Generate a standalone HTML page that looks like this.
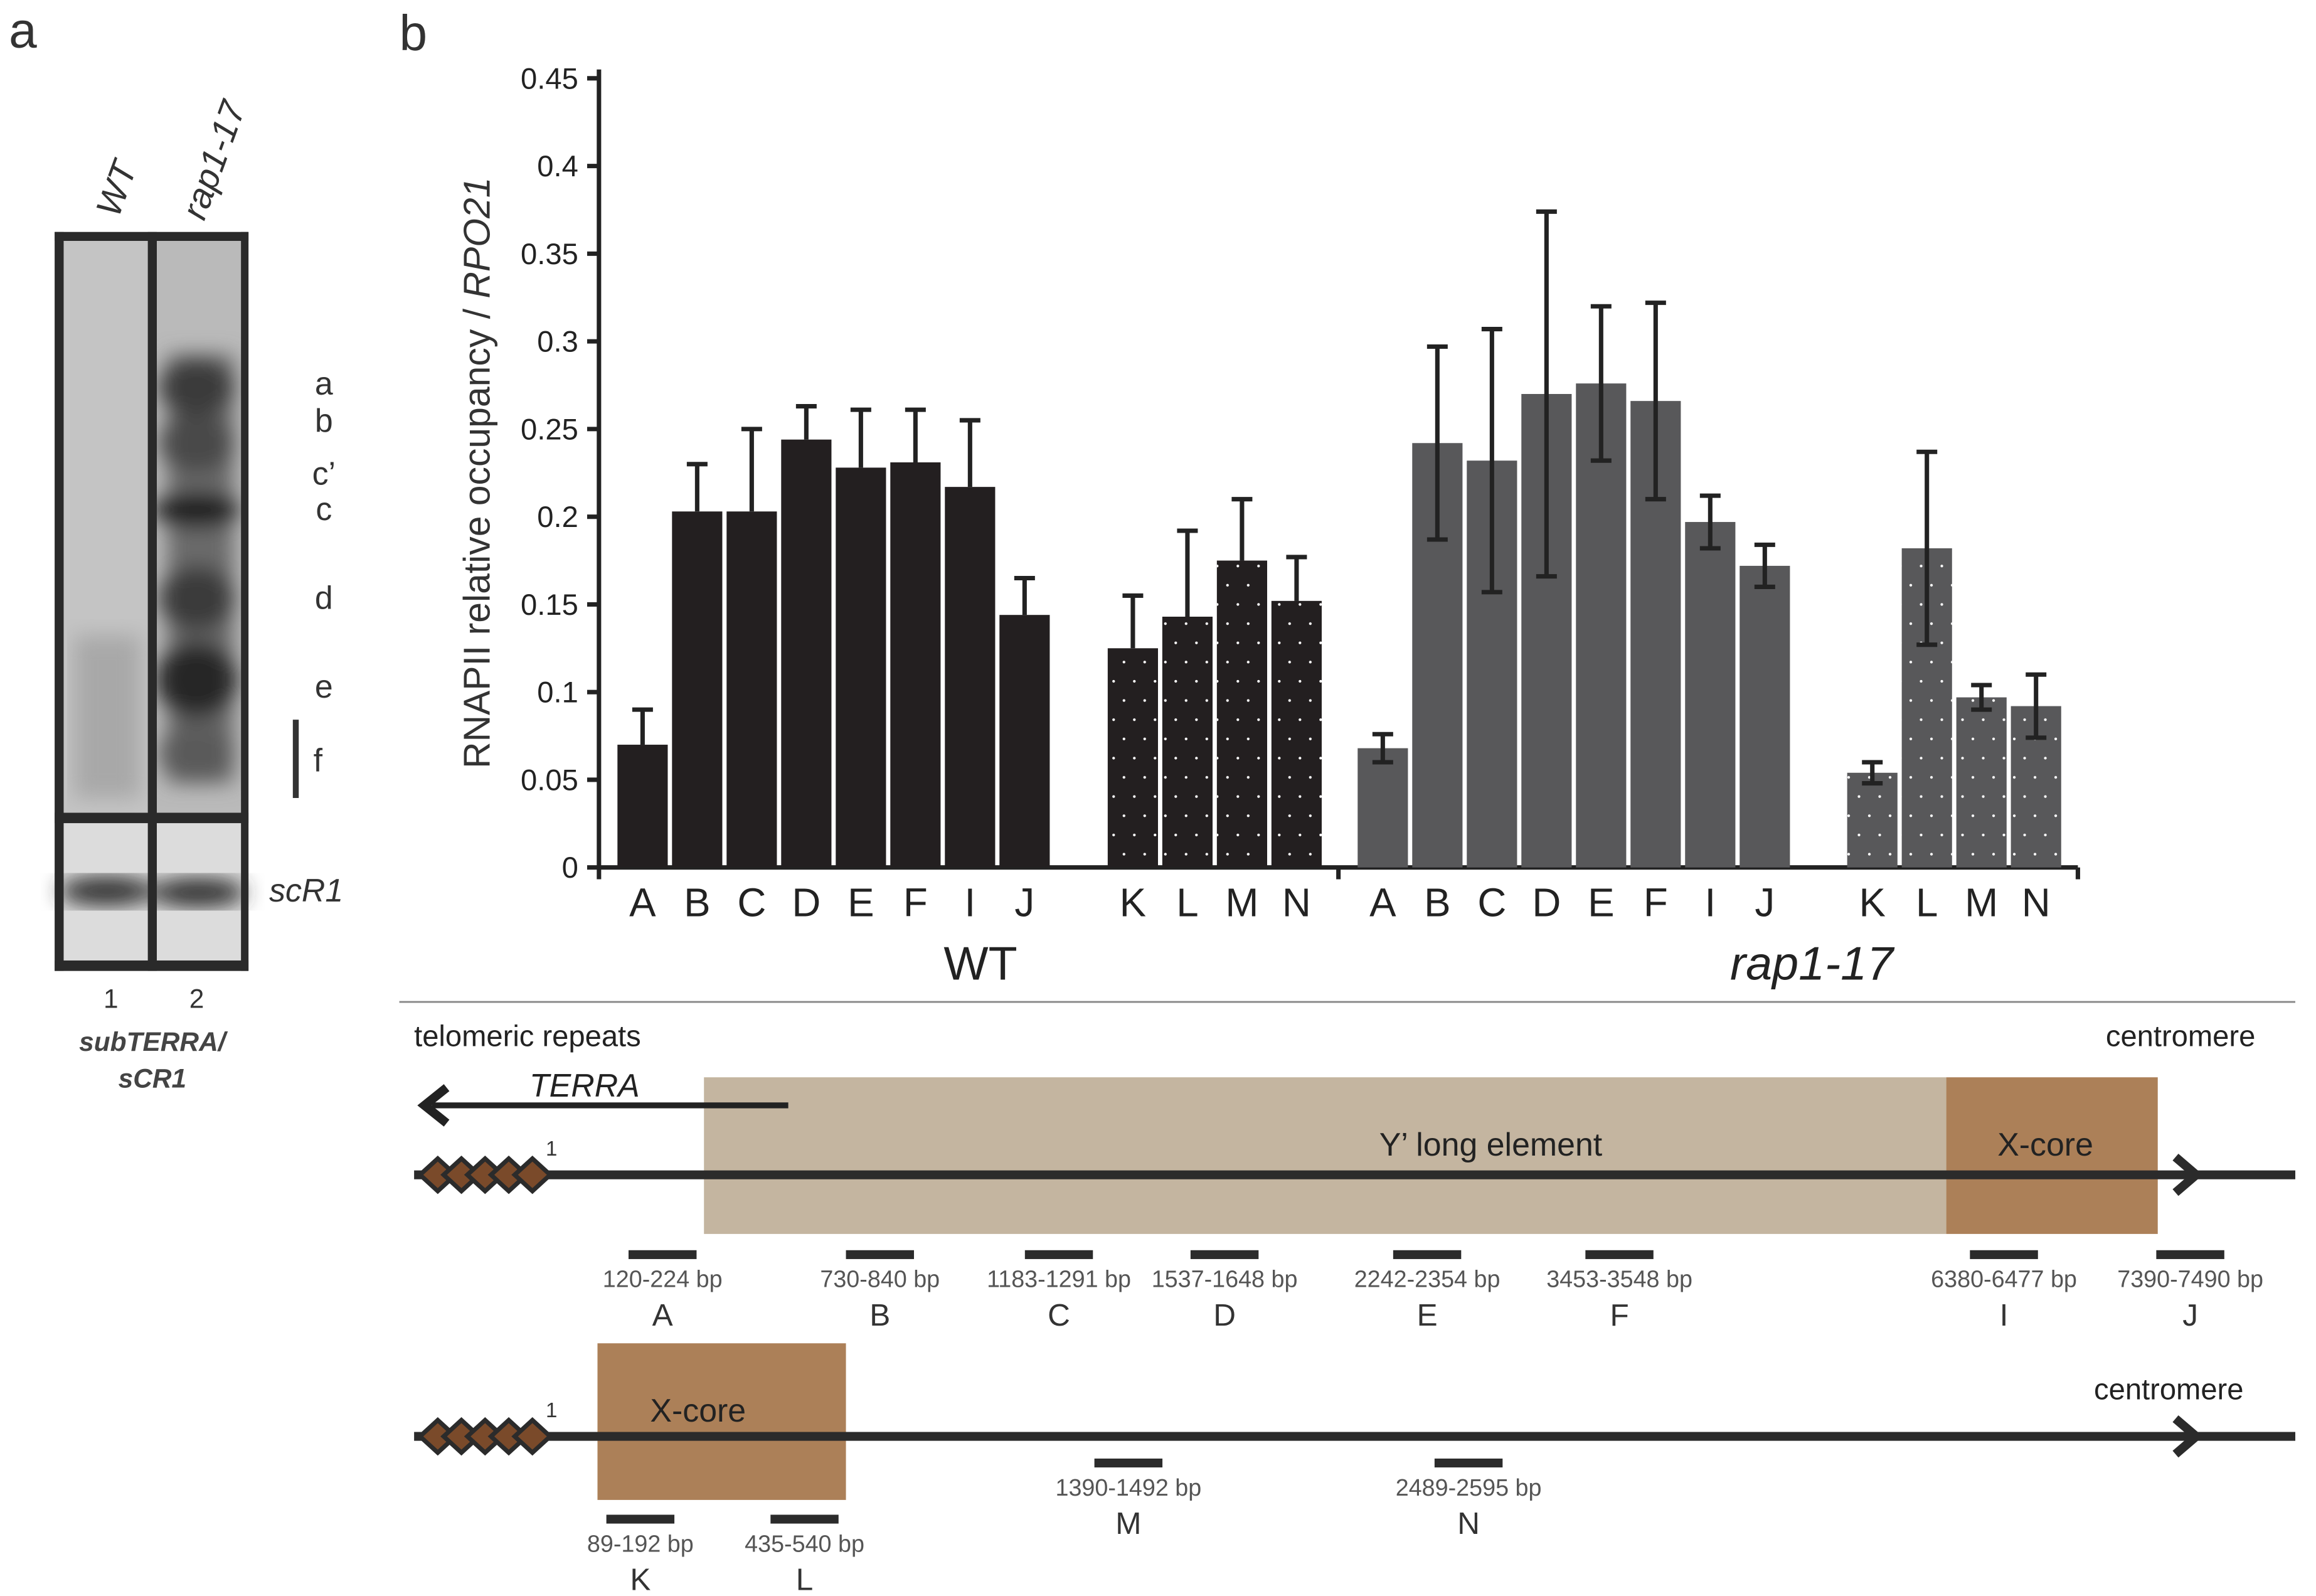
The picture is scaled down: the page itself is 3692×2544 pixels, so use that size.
<!DOCTYPE html>
<html><head><meta charset="utf-8"><style>
html,body{margin:0;padding:0;background:#fff;}
svg{display:block;font-family:"Liberation Sans",sans-serif;}
</style></head><body>
<svg id="fig" width="3692" height="2544" viewBox="0 0 1566 1080" preserveAspectRatio="none" xmlns="http://www.w3.org/2000/svg">
<defs>
<pattern id="dots" width="14" height="26" patternUnits="userSpaceOnUse"><circle cx="4" cy="6" r="0.9" fill="#fff"/><circle cx="11" cy="19" r="0.9" fill="#fff"/></pattern>
<filter id="blur6"><feGaussianBlur stdDeviation="7"/></filter>
<clipPath id="lane1"><rect x="43" y="163" width="57" height="387"/></clipPath>
<clipPath id="lane2"><rect x="106" y="163" width="57" height="387"/></clipPath>
</defs>

<text x="6" y="32" font-size="34" fill="#333">a</text>
<text x="270" y="34" font-size="34" fill="#333">b</text>
<text transform="translate(80,148) rotate(-70)" font-size="24" font-style="italic" fill="#333">WT</text>
<text transform="translate(138,150) rotate(-70)" font-size="24" font-style="italic" fill="#333">rap1-17</text>
<g>
<rect x="37" y="157" width="131" height="500" fill="#2a2a2a"/>
<rect x="43" y="163" width="57" height="387" fill="#c4c4c4"/>
<rect x="106" y="163" width="57" height="387" fill="#bababa"/>
<g clip-path="url(#lane1)" filter="url(#blur6)"><rect x="50" y="430" width="45" height="110" fill="#a8a8a8"/></g>
<g clip-path="url(#lane2)" filter="url(#blur6)">
<rect x="113" y="240" width="45" height="290" fill="#6a6a6a"/>
<ellipse cx="133" cy="262" rx="26" ry="20" fill="#3a3a3a"/>
<ellipse cx="133" cy="300" rx="26" ry="20" fill="#4a4a4a"/>
<ellipse cx="133" cy="345" rx="30" ry="12" fill="#1a1a1a"/>
<ellipse cx="133" cy="405" rx="26" ry="22" fill="#3a3a3a"/>
<ellipse cx="133" cy="460" rx="28" ry="26" fill="#262626"/>
<ellipse cx="133" cy="510" rx="26" ry="20" fill="#5a5a5a"/>
</g>
<rect x="43" y="557" width="57" height="93" fill="#dcdcdc"/>
<rect x="106" y="557" width="57" height="93" fill="#dcdcdc"/>
<g filter="url(#blur6)"><ellipse cx="72" cy="603" rx="32" ry="10" fill="#333"/><ellipse cx="134" cy="604" rx="32" ry="10" fill="#333"/></g>
<rect x="100" y="157" width="6" height="500" fill="#2a2a2a"/>
<rect x="37" y="550" width="131" height="7" fill="#2a2a2a"/>
<rect x="37" y="157" width="6" height="500" fill="#2a2a2a"/><rect x="163" y="157" width="5" height="500" fill="#2a2a2a"/>
<rect x="37" y="650" width="131" height="7" fill="#2a2a2a"/><rect x="37" y="157" width="131" height="6" fill="#2a2a2a"/>
</g>
<g font-size="22" fill="#333" text-anchor="middle">
<text x="219" y="267">a</text><text x="219" y="292">b</text><text x="219" y="328">c’</text><text x="219" y="352">c</text>
<text x="219" y="412">d</text><text x="219" y="472">e</text><text x="215" y="522">f</text>
</g>
<rect x="198" y="487" width="4" height="53" fill="#333"/>
<text x="182" y="610" font-size="22" font-style="italic" fill="#333">scR1</text>
<text x="75" y="682" font-size="18" fill="#333" text-anchor="middle">1</text>
<text x="133" y="682" font-size="18" fill="#333" text-anchor="middle">2</text>
<text x="103" y="711" font-size="18" font-style="italic" font-weight="bold" fill="#444" text-anchor="middle">subTERRA/</text>
<text x="103" y="736" font-size="18" font-style="italic" font-weight="bold" fill="#444" text-anchor="middle">sCR1</text>

<g id="chart"></g>

<line x1="270" y1="678" x2="1552" y2="678" stroke="#888" stroke-width="1.2"/>

<g>
<text x="280" y="708" font-size="20" fill="#222">telomeric repeats</text>
<text x="1525" y="708" font-size="20" fill="#222" text-anchor="end">centromere</text>
<rect x="476" y="729" width="840" height="106" fill="#c4b5a0"/>
<rect x="1316" y="729" width="143" height="106" fill="#ac8058"/>
<line x1="533" y1="748" x2="292" y2="748" stroke="#222" stroke-width="4"/>
<polyline points="302,736 287,748 302,760" fill="none" stroke="#222" stroke-width="6"/>
<text x="358" y="742" font-size="22" font-style="italic" fill="#222">TERRA</text>
<text x="1008" y="782" font-size="22" fill="#222" text-anchor="middle">Y’ long element</text>
<text x="1383" y="782" font-size="22" fill="#222" text-anchor="middle">X-core</text>
<line x1="280" y1="795" x2="1552" y2="795" stroke="#2b2b2b" stroke-width="6"/>
<polyline points="1471,783 1485,795 1471,807" fill="none" stroke="#2b2b2b" stroke-width="6"/>
</g>
<g id="probes1"></g>

<g>
<rect x="404" y="909" width="168" height="106" fill="#ac8058"/>
<text x="472" y="962" font-size="22" fill="#222" text-anchor="middle">X-core</text>
<text x="1517" y="947" font-size="20" fill="#222" text-anchor="end">centromere</text>
<line x1="280" y1="972" x2="1552" y2="972" stroke="#2b2b2b" stroke-width="6"/>
<polyline points="1471,960 1485,972 1471,984" fill="none" stroke="#2b2b2b" stroke-width="6"/>
</g>
<g id="probes2"></g>

<script>
const NS="http://www.w3.org/2000/svg";
const categories=["A","B","C","D","E","F","I","J","K","L","M","N"];
const wtValues=[0.070,0.203,0.203,0.244,0.228,0.231,0.217,0.144,0.125,0.143,0.175,0.152];
const wtErr=[0.020,0.027,0.047,0.019,0.033,0.030,0.038,0.021,0.030,0.049,0.035,0.025];
const rapValues=[0.068,0.242,0.232,0.270,0.276,0.266,0.197,0.172,0.054,0.182,0.097,0.092];
const rapErr=[0.008,0.055,0.075,0.104,0.044,0.056,0.015,0.012,0.006,0.055,0.007,0.018];
const yTicks=["0","0.05","0.1","0.15","0.2","0.25","0.3","0.35","0.4","0.45"];
const groupLabels=["WT","rap1-17"];

const X0=405,X1=1405,Y0=587,Ytop=53,VMAX=0.45;
function yScale(v){return Y0-(v/VMAX)*(Y0-Ytop);}
const PITCH=36.9,BW=34;
const groupStart=[[417.5,749],[918,1249]];
function xScale(g,i){const sub=i<8?0:1;const k=i<8?i:i-8;return groupStart[g][sub]+k*PITCH;}

function mk(tag,attrs,parent){const e=document.createElementNS(NS,tag);for(const k in attrs)e.setAttribute(k,attrs[k]);parent.appendChild(e);return e;}
const chart=document.getElementById('chart');

const ya=mk('line',{x1:X0,y1:Ytop-6,x2:X0,y2:Y0+8,stroke:'#222','stroke-width':3},chart);


const xa=mk('line',{x1:X0,y1:Y0,x2:X1,y2:Y0,stroke:'#222','stroke-width':3},chart);


[905,X1].forEach(x=>{mk('line',{x1:x,y1:Y0,x2:x,y2:Y0+8,stroke:'#222','stroke-width':3},chart);});
yTicks.forEach(t=>{
  const y=yScale(parseFloat(t));
  mk('line',{x1:X0-8,y1:y,x2:X0,y2:y,stroke:'#222','stroke-width':3},chart);
  const tx=mk('text',{x:X0-14,y:y+7,'font-size':20,'text-anchor':'end',fill:'#222'},chart);
  tx.textContent=t;
  
  
});
const yt=mk('text',{transform:'translate(331,320) rotate(-90)','font-size':25,'text-anchor':'middle',fill:'#333'},chart);


const ts1=mk('tspan',{},yt);ts1.textContent='RNAPII relative occupancy / ';
const ts2=mk('tspan',{'font-style':'italic'},yt);ts2.textContent='RPO21';

function drawSeries(g,vals,errs,color,both){
  vals.forEach((v,i)=>{
    const x=xScale(g,i),y=yScale(v);
    const r=mk('rect',{x:x,y:y,width:BW,height:Y0-y,fill:color},chart);
    
    
    if(i>=8){const d=mk('rect',{x:x,y:y,width:BW,height:Y0-y,fill:'url(#dots)'},chart);
      
      }
    const cx=x+BW/2,yt2=yScale(v+errs[i]),yb=both?yScale(v-errs[i]):y;
    const eb=mk('path',{d:`M${cx},${yb}V${yt2}M${cx-7},${yt2}H${cx+7}`+(both?`M${cx-7},${yb}H${cx+7}`:''),stroke:'#222','stroke-width':3,fill:'none'},chart);
    
    
    const lb=mk('text',{x:cx,y:620,'font-size':27,'text-anchor':'middle',fill:'#222'},chart);
    lb.textContent=categories[i];
    
    
  });
}
drawSeries(0,wtValues,wtErr,'#231f20',false);
drawSeries(1,rapValues,rapErr,'#58585a',true);
[[663,false],[1225,true]].forEach((p,g)=>{
  const t=mk('text',{x:p[0],y:663,'font-size':32,'text-anchor':'middle',fill:'#222','font-style':p[1]?'italic':'normal'},chart);
  t.textContent=groupLabels[g];
  
  
});

function diamonds(y){
  const g=mk('g',{},document.getElementById('fig'));
  
  
  for(let k=0;k<5;k++){const cx=296+k*16;
    mk('polygon',{points:`${cx-12},${y} ${cx},${y-11} ${cx+12},${y} ${cx},${y+11}`,fill:'#7a4a2a',stroke:'#2b2b2b','stroke-width':3},g);}
  const one=mk('text',{x:369,y:y-13,'font-size':14,fill:'#333'},g);one.textContent='1';
}
diamonds(795);diamonds(972);

const probes1=[["A",448,849,"120-224 bp"],["B",595,849,"730-840 bp"],["C",716,849,"1183-1291 bp"],["D",828,849,"1537-1648 bp"],["E",965,849,"2242-2354 bp"],["F",1095,849,"3453-3548 bp"],["I",1355,849,"6380-6477 bp"],["J",1481,849,"7390-7490 bp"]];
const probes2=[["K",433,1028,"89-192 bp"],["L",544,1028,"435-540 bp"],["M",763,990,"1390-1492 bp"],["N",993,990,"2489-2595 bp"]];
function drawProbes(list,id){
  const p=document.getElementById(id);
  list.forEach(q=>{
    const r=mk('rect',{x:q[1]-23,y:q[2]-3,width:46,height:6,fill:'#2b2b2b'},p);
    
    
    const t=mk('text',{x:q[1],y:q[2]+22,'font-size':16,'text-anchor':'middle',fill:'#555'},p);t.textContent=q[3];
    const l=mk('text',{x:q[1],y:q[2]+48,'font-size':21,'text-anchor':'middle',fill:'#333'},p);l.textContent=q[0];
  });
}
drawProbes(probes1,'probes1');drawProbes(probes2,'probes2');
</script>
</svg>
</body></html>
